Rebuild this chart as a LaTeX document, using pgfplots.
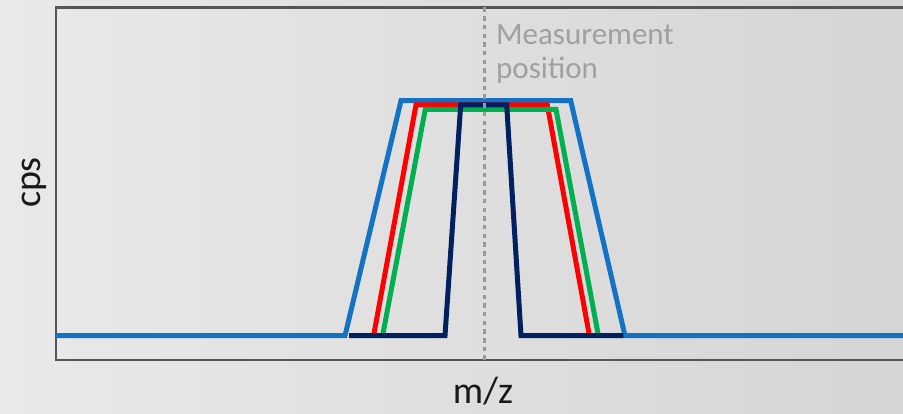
\documentclass[border=0pt]{standalone}
\usepackage{pgfplots}
\pgfplotsset{compat=1.18}
\usepackage{fontspec}
\setmainfont{Carlito}
\definecolor{bgl}{HTML}{E9E9E9}
\definecolor{bgr}{HTML}{D5D5D5}
\definecolor{cblue}{HTML}{1372C4}
\definecolor{cred}{HTML}{FF0000}
\definecolor{cgreen}{HTML}{00B050}
\definecolor{cnavy}{HTML}{002060}
\definecolor{frame}{HTML}{555555}
\definecolor{dotc}{HTML}{9A9A9A}
\definecolor{anno}{HTML}{A0A0A0}
\begin{document}
\begin{tikzpicture}[x=1pt,y=1pt]
\useasboundingbox (0,0) rectangle (903,414);
\shade[left color=bgl, right color=bgr] (0,0) rectangle (903,414);
\begin{axis}[
  at={(56pt,54pt)}, anchor=south west,
  scale only axis, width=854pt, height=352.7pt,
  xmin=56, xmax=910, ymin=0, ymax=352.7,
  xtick=\empty, ytick=\empty,
  axis line style={draw=frame, line width=2.5pt},
  xlabel={m/z},
  xlabel style={font=\fontsize{38}{46}\selectfont, text=black!90, at={(axis description cs:0.5,-0.122)}, anchor=base, inner sep=0pt},
  ylabel={cps},
  ylabel style={font=\fontsize{38}{46}\selectfont, text=black!90, at={(axis description cs:-0.0176,0.503)}, anchor=base, rotate=0, inner sep=0pt},
  every axis plot/.append style={line width=5pt, line join=miter, line cap=butt},
]
\addplot[cblue] coordinates {(56,24.3) (345,24.3) (401,259.3) (570.7,259.3) (625,24.3) (910,24.3)};
\addplot[cred] coordinates {(373.6,24.3) (416,255) (547.3,255) (589.4,24.3)};
\addplot[cgreen] coordinates {(382.6,24.3) (425.3,250.7) (556,250.7) (598.4,24.3)};
\addplot[cnavy] coordinates {(349,24.3) (445,24.3) (460.7,255) (506.7,255) (521,24.3) (623.3,24.3)};
\addplot[dotc, line width=2.8pt, dash pattern=on 4.5pt off 4.2pt] coordinates {(484.7,0) (484.7,352.7)};
\end{axis}
\node[anchor=base west, inner sep=0pt, text=anno, font=\fontsize{31}{36}\selectfont] at (496,369) {Measurement};
\node[anchor=base west, inner sep=0pt, text=anno, font=\fontsize{31}{36}\selectfont] at (496,335.7) {position};
\end{tikzpicture}
\end{document}
